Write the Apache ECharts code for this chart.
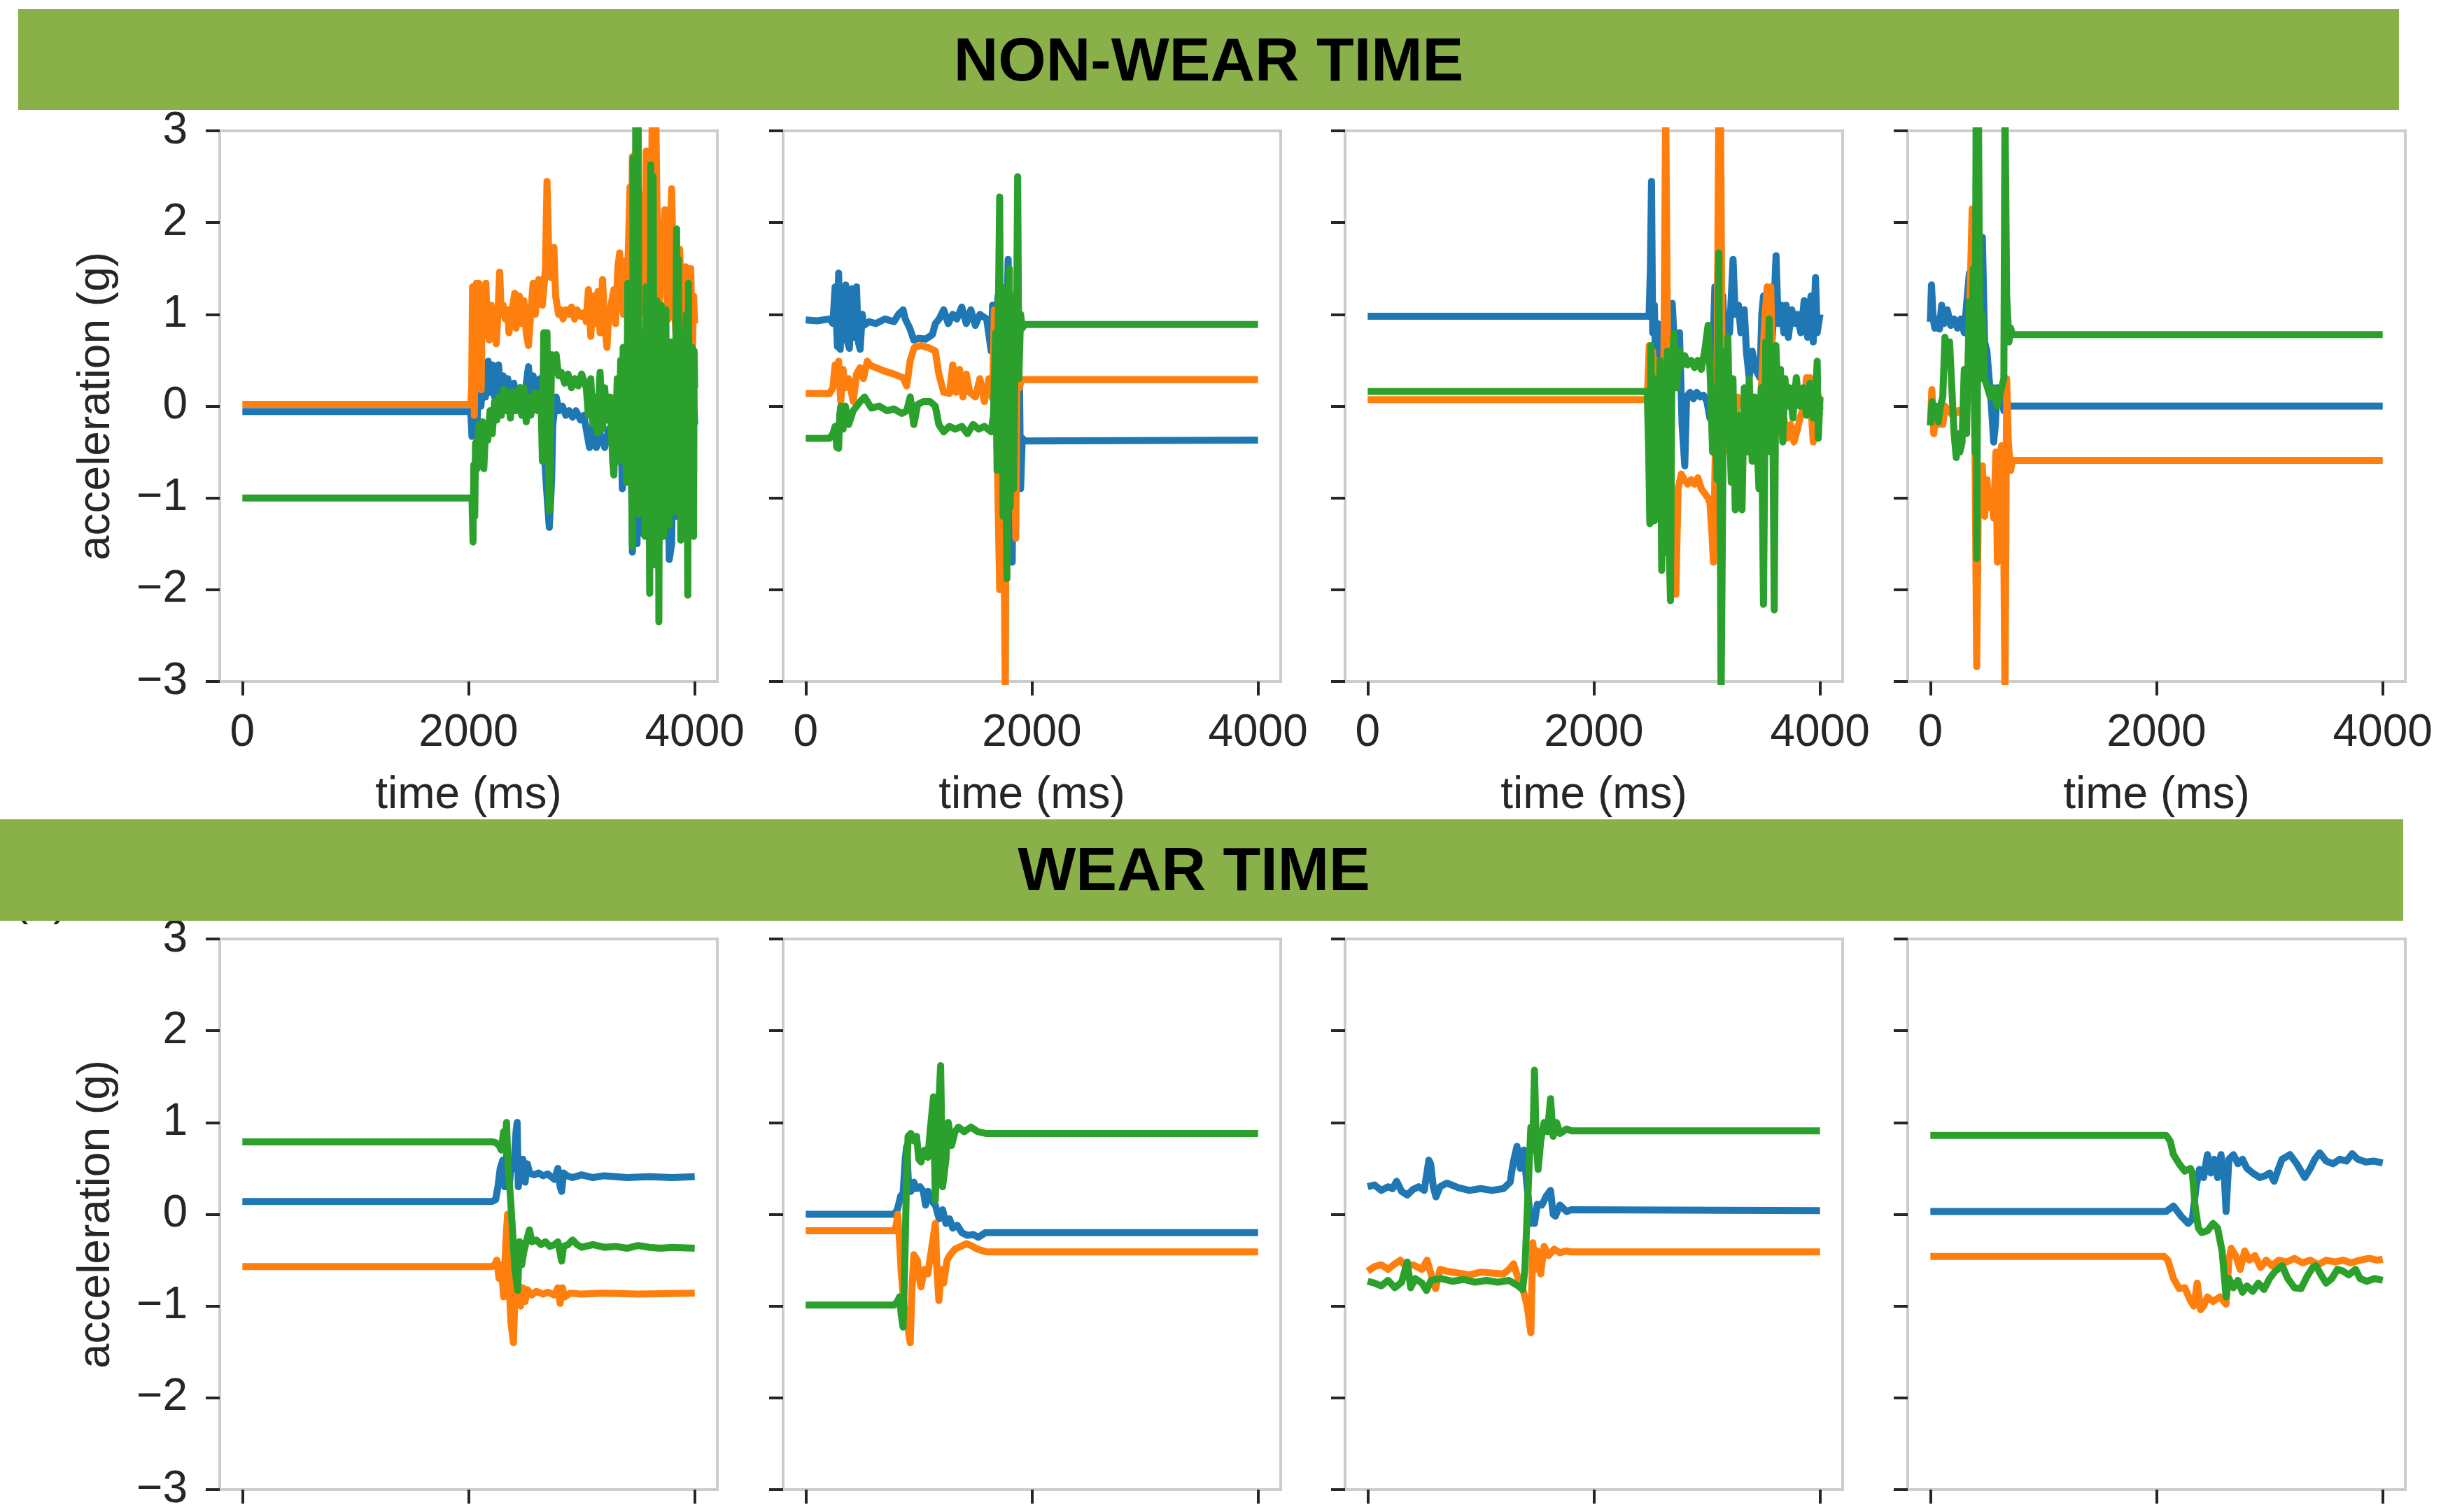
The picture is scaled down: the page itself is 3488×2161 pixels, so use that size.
<!DOCTYPE html>
<html>
<head>
<meta charset="utf-8">
<title>Non-wear / wear time acceleration</title>
<script src="https://cdn.jsdelivr.net/npm/echarts@6.0.0/dist/echarts.min.js"></script>
<style>
  html, body { margin: 0; padding: 0; background: #fff; }
  #chart { width: 3488px; height: 2161px; }
</style>
</head>
<body>
<div id="chart"></div>
<script>
// [time (ms), acceleration (g)] pairs
var timeTicks = [0, 2000, 4000];
var rowTitles = ['NON-WEAR TIME', 'WEAR TIME'];
var xName = 'time (ms)';
var yName = 'acceleration (g)';

// ---- non-wear time ----
var nonWear1X = [[0,-0.06],[2020,-0.06],[2030,-0.33],[2045,-0.1],[2060,0.2],[2075,-0.2],[2090,0.3],[2110,0.0],[2130,0.35],[2150,0.1],[2173,0.49],[2190,0.15],[2210,0.45],[2230,0.1],[2265,0.45],[2285,0.15],[2306,0.33],[2330,0.05],[2347,0.3],[2370,0.1],[2400,0.25],[2430,0.0],[2460,0.2],[2490,0.05],[2530,0.43],[2550,0.1],[2571,0.33],[2600,0.1],[2632,0.3],[2660,-0.3],[2690,-0.9],[2714,-1.32],[2735,-0.8],[2745,-0.2],[2775,0.1],[2800,-0.05],[2830,0.0],[2860,-0.1],[2890,-0.05],[2920,-0.12],[2950,-0.05],[2990,-0.15],[3020,-0.1],[3041,-0.25],[3070,-0.45],[3100,-0.2],[3130,-0.45],[3163,-0.3],[3204,-0.45],[3240,-0.25],[3270,-0.3],[3300,0.1],[3320,-0.6],[3340,0.3],[3360,-0.9],[3380,0.2],[3400,-0.5],[3430,0.4],[3449,-1.59],[3470,0.2],[3490,-1.5],[3510,0.5],[3530,-0.6],[3551,-1.4],[3571,0.6],[3590,-0.3],[3612,0.7],[3640,-1.0],[3660,0.5],[3683,-1.5],[3704,0.3],[3724,-1.2],[3750,0.6],[3775,-1.67],[3796,-1.5],[3815,0.4],[3837,-1.2],[3860,0.5],[3880,-0.8],[3900,0.6],[3920,-0.6],[3940,0.4],[3960,-1.0],[3980,0.5],[4000,-0.2]];
var nonWear1Y = [[0,0.02],[2020,0.02],[2028,0.2],[2035,1.3],[2045,0.4],[2051,-0.1],[2060,1.0],[2070,1.34],[2080,0.6],[2091,1.34],[2100,0.4],[2112,0.18],[2122,1.2],[2135,0.8],[2153,1.34],[2165,0.9],[2183,0.72],[2200,1.1],[2215,0.8],[2230,0.9],[2245,0.68],[2260,1.0],[2275,1.46],[2290,1.0],[2306,1.1],[2325,0.95],[2347,1.05],[2357,0.8],[2380,1.0],[2408,1.23],[2420,0.85],[2449,1.2],[2465,0.9],[2489,1.15],[2510,0.8],[2530,0.66],[2550,1.0],[2571,1.34],[2590,1.0],[2620,1.38],[2653,1.1],[2680,1.5],[2694,2.45],[2710,1.6],[2730,1.4],[2755,1.73],[2770,1.2],[2796,1.0],[2815,1.05],[2836,0.95],[2860,1.05],[2890,1.0],[2910,1.08],[2938,0.95],[2960,1.05],[2990,0.98],[3020,1.02],[3041,0.92],[3060,1.27],[3081,0.76],[3100,1.2],[3122,0.9],[3145,1.25],[3163,0.8],[3185,1.38],[3204,0.9],[3224,0.64],[3240,1.0],[3260,1.1],[3285,1.27],[3300,0.9],[3320,1.5],[3336,1.67],[3355,1.2],[3370,1.0],[3387,1.58],[3400,1.1],[3415,1.8],[3428,2.39],[3440,1.5],[3449,2.72],[3460,1.2],[3475,0.8],[3490,1.6],[3510,1.0],[3530,1.5],[3551,2.31],[3560,1.3],[3571,2.78],[3585,1.6],[3600,1.0],[3612,1.46],[3625,3.3],[3640,2.0],[3655,3.3],[3670,1.8],[3688,1.15],[3704,1.6],[3720,1.8],[3735,2.14],[3750,1.3],[3765,0.95],[3780,1.7],[3796,2.37],[3815,1.2],[3837,0.72],[3850,1.3],[3867,1.71],[3885,1.0],[3898,0.41],[3910,1.2],[3919,1.52],[3935,1.0],[3950,1.45],[3965,1.5],[3980,0.6],[3990,1.2],[4000,0.9]];
var nonWear1Z = [[0,-1.0],[2030,-1.0],[2040,-1.48],[2047,-0.64],[2055,-1.2],[2062,-0.4],[2075,-0.68],[2090,-0.2],[2105,-0.6],[2122,-0.17],[2135,-0.68],[2153,-0.2],[2170,-0.37],[2190,-0.05],[2210,-0.3],[2230,0.05],[2250,-0.15],[2270,0.1],[2290,-0.1],[2310,0.18],[2330,-0.05],[2350,0.15],[2370,-0.13],[2390,0.15],[2420,-0.05],[2450,0.2],[2470,-0.1],[2490,0.2],[2510,-0.17],[2530,0.1],[2550,-0.1],[2580,0.15],[2610,-0.05],[2640,0.15],[2653,-0.6],[2665,0.8],[2680,0.5],[2694,0.8],[2705,-0.5],[2715,-1.14],[2725,-0.2],[2735,0.56],[2755,0.4],[2775,0.56],[2796,0.33],[2820,0.37],[2850,0.25],[2880,0.35],[2910,0.2],[2940,0.3],[2970,0.22],[3000,0.35],[3041,0.2],[3060,-0.1],[3081,0.3],[3100,-0.2],[3122,0.1],[3140,-0.29],[3163,0.37],[3185,-0.25],[3204,0.2],[3224,-0.15],[3250,0.1],[3275,-0.6],[3285,-0.75],[3300,-0.3],[3315,0.3],[3330,-0.6],[3345,0.5],[3360,-0.4],[3367,0.64],[3373,-0.2],[3380,-0.5],[3386,0.4],[3392,-0.6],[3398,-0.83],[3408,1.34],[3414,-0.5],[3420,-0.3],[3428,0.7],[3435,0.6],[3442,-0.7],[3449,-1.53],[3455,2.7],[3460,0.3],[3465,-0.4],[3472,0.6],[3479,3.3],[3484,-0.5],[3490,0.2],[3500,3.3],[3505,0.4],[3510,-1.18],[3515,0.6],[3520,0.3],[3525,-0.7],[3530,-0.6],[3536,0.7],[3541,0.8],[3546,-0.5],[3550,-0.8],[3556,0.5],[3561,-1.42],[3566,0.6],[3571,1.3],[3578,-0.7],[3585,-0.6],[3592,0.6],[3602,-2.04],[3607,0.5],[3612,2.63],[3618,-0.7],[3625,-0.4],[3632,2.5],[3638,0.3],[3645,-0.9],[3649,0.6],[3653,-1.73],[3658,0.4],[3663,1.15],[3669,-0.5],[3675,-0.7],[3679,0.6],[3683,-2.35],[3689,0.2],[3695,0.6],[3700,-0.7],[3704,1.1],[3709,0.3],[3714,-0.9],[3719,0.5],[3724,-1.42],[3730,0.4],[3735,0.9],[3740,-0.7],[3745,1.05],[3750,-0.3],[3755,-0.6],[3762,0.5],[3768,-0.8],[3775,-1.3],[3780,0.4],[3785,-0.5],[3790,0.7],[3795,-0.7],[3800,-0.4],[3808,0.5],[3815,0.6],[3820,-0.7],[3826,-1.15],[3833,0.5],[3840,1.93],[3846,-0.5],[3851,0.4],[3857,1.6],[3862,-0.3],[3867,-0.6],[3872,0.5],[3877,-1.46],[3882,0.3],[3888,0.5],[3893,-0.6],[3898,0.64],[3904,-0.4],[3910,-0.5],[3918,0.6],[3925,1.0],[3932,-0.5],[3939,-2.06],[3945,1.34],[3950,-0.4],[3955,-0.6],[3960,0.5],[3965,0.4],[3972,-0.6],[3979,0.64],[3985,-0.3],[3990,-1.42],[3995,0.6],[4000,0.2]];

var nonWear2X = [[0,0.94],[100,0.93],[212,0.95],[240,0.9],[260,1.3],[280,0.65],[291,1.45],[305,0.62],[330,1.2],[354,1.32],[370,0.7],[386,0.63],[410,1.28],[430,0.75],[449,1.3],[465,0.7],[481,0.62],[500,1.0],[513,0.88],[560,0.92],[620,0.9],[700,0.95],[780,0.92],[820,1.0],[861,1.05],[880,0.95],[920,0.85],[956,0.72],[1000,0.74],[1060,0.73],[1120,0.78],[1146,0.9],[1180,0.95],[1220,1.05],[1260,0.9],[1300,1.0],[1336,0.95],[1380,1.08],[1420,0.9],[1460,1.05],[1500,0.88],[1540,1.0],[1600,0.95],[1640,0.6],[1652,1.1],[1680,0.4],[1700,1.2],[1720,0.2],[1740,0.8],[1760,-0.3],[1790,1.6],[1800,0.2],[1826,-1.7],[1840,0.7],[1850,-0.1],[1862,1.1],[1875,-0.4],[1890,0.3],[1900,-0.9],[1915,-0.35],[1937,-0.38],[4000,-0.37]];
var nonWear2Y = [[0,0.14],[212,0.14],[240,0.2],[260,0.45],[280,0.3],[291,0.49],[310,0.05],[330,0.4],[350,0.2],[380,0.3],[420,0.05],[450,0.35],[481,0.42],[510,0.3],[544,0.49],[576,0.44],[620,0.42],[700,0.38],[780,0.35],[861,0.31],[893,0.22],[924,0.5],[960,0.64],[1019,0.66],[1080,0.64],[1146,0.6],[1177,0.35],[1220,0.15],[1272,0.14],[1300,0.45],[1330,0.15],[1360,0.4],[1390,0.1],[1420,0.35],[1450,0.15],[1500,0.1],[1540,0.3],[1580,0.05],[1620,0.3],[1652,0.08],[1668,1.05],[1690,-0.3],[1715,-2.0],[1730,0.2],[1750,-1.0],[1765,-3.2],[1775,0.4],[1800,-0.6],[1830,0.6],[1858,-1.44],[1870,0.8],[1890,0.2],[1905,0.29],[4000,0.29]];
var nonWear2Z = [[0,-0.35],[212,-0.35],[240,-0.3],[260,-0.22],[275,-0.45],[291,-0.46],[300,-0.1],[310,0.0],[330,-0.25],[350,0.0],[380,-0.2],[420,-0.05],[481,0.05],[520,0.1],[580,-0.02],[650,0.0],[720,-0.05],[780,-0.03],[850,-0.08],[893,-0.05],[924,0.1],[956,-0.2],[990,0.02],[1040,0.05],[1100,0.05],[1146,0.0],[1177,-0.2],[1220,-0.28],[1270,-0.22],[1320,-0.25],[1380,-0.22],[1430,-0.3],[1480,-0.2],[1530,-0.25],[1580,-0.22],[1640,-0.28],[1660,-0.1],[1680,0.8],[1692,-0.7],[1705,1.2],[1715,2.28],[1725,-0.3],[1735,1.3],[1745,-1.2],[1755,0.9],[1765,0.6],[1772,-1.0],[1779,-1.88],[1790,0.3],[1800,1.5],[1808,-1.1],[1815,-0.5],[1822,1.2],[1830,0.9],[1838,-0.9],[1845,-0.2],[1855,1.0],[1862,0.5],[1874,2.5],[1885,0.3],[1900,1.0],[1915,0.85],[1937,0.89],[4000,0.89]];

var nonWear3X = [[0,0.98],[2488,0.98],[2500,1.5],[2510,2.45],[2520,0.8],[2535,1.1],[2550,0.22],[2565,0.9],[2580,-0.5],[2600,-1.2],[2614,-1.6],[2630,0.2],[2660,0.6],[2693,1.12],[2720,0.5],[2757,0.8],[2780,-0.2],[2804,-0.65],[2820,0.1],[2850,0.15],[2880,0.08],[2910,0.15],[2940,0.1],[2970,0.12],[3000,0.05],[3026,-0.13],[3050,0.5],[3070,1.3],[3090,0.9],[3105,2.1],[3120,0.7],[3140,1.2],[3160,0.5],[3180,1.0],[3200,0.8],[3231,1.6],[3250,1.0],[3279,1.1],[3300,0.8],[3330,1.05],[3350,0.58],[3374,0.31],[3400,0.6],[3430,0.4],[3469,0.31],[3485,1.0],[3500,1.2],[3520,0.7],[3545,0.5],[3564,0.49],[3590,1.0],[3611,1.64],[3630,0.9],[3659,1.1],[3680,0.8],[3700,1.1],[3720,0.75],[3750,1.05],[3780,0.9],[3800,1.0],[3830,0.8],[3860,1.15],[3890,0.75],[3920,1.2],[3940,0.7],[3960,1.4],[3975,0.8],[4000,1.0]];
var nonWear3Y = [[0,0.07],[2472,0.07],[2490,0.66],[2505,-0.2],[2520,0.6],[2535,-0.1],[2550,-0.3],[2575,0.5],[2600,-0.4],[2620,0.6],[2635,3.3],[2646,3.3],[2660,-0.6],[2680,-1.0],[2700,-1.44],[2725,-2.05],[2745,-0.9],[2773,-0.74],[2800,-0.8],[2830,-0.85],[2860,-0.8],[2890,-0.85],[2920,-0.78],[2950,-0.9],[2980,-0.95],[3010,-1.0],[3026,-1.05],[3045,-1.4],[3057,-1.7],[3075,-0.4],[3090,0.5],[3105,3.3],[3120,3.3],[3135,0.2],[3150,-0.5],[3180,-0.2],[3210,0.2],[3240,-0.3],[3270,0.1],[3311,0.05],[3340,-0.1],[3370,-0.17],[3400,0.0],[3430,-0.1],[3469,-0.05],[3490,0.4],[3510,0.9],[3532,1.3],[3550,1.0],[3564,1.3],[3580,0.4],[3600,-0.1],[3620,-0.2],[3650,-0.3],[3680,-0.13],[3710,-0.35],[3740,-0.2],[3770,-0.39],[3800,-0.25],[3830,-0.1],[3860,0.0],[3880,0.31],[3900,0.2],[3912,0.31],[3925,-0.1],[3940,-0.39],[3955,0.0],[3970,-0.2],[3990,0.1],[4000,-0.04]];
var nonWear3Z = [[0,0.16],[2472,0.16],[2485,-0.5],[2495,-1.28],[2505,0.66],[2520,-0.8],[2535,-1.25],[2550,0.3],[2570,-1.0],[2585,0.5],[2600,-1.79],[2615,0.4],[2630,-0.8],[2650,0.6],[2665,-1.5],[2678,-2.12],[2690,0.4],[2709,0.79],[2730,0.2],[2757,0.6],[2780,0.44],[2804,0.55],[2830,0.45],[2860,0.5],[2890,0.42],[2920,0.5],[2950,0.4],[2980,0.6],[3010,0.88],[3030,0.3],[3050,-0.5],[3070,0.2],[3090,-0.8],[3105,1.67],[3115,-0.5],[3125,-3.2],[3136,-1.5],[3150,0.6],[3170,-0.4],[3185,0.75],[3200,-0.2],[3215,-0.83],[3230,0.3],[3250,-1.13],[3270,-0.4],[3290,-0.1],[3310,-1.13],[3330,0.2],[3350,-0.5],[3374,0.3],[3400,-0.6],[3420,0.1],[3440,-0.3],[3460,-0.9],[3480,0.2],[3500,-2.16],[3520,0.7],[3535,0.2],[3550,0.95],[3565,-0.5],[3580,0.3],[3595,-2.22],[3610,0.66],[3630,0.0],[3650,0.4],[3670,-0.39],[3690,0.3],[3710,0.0],[3730,0.2],[3760,-0.13],[3790,0.31],[3820,0.0],[3850,0.2],[3880,-0.1],[3910,0.25],[3940,-0.13],[3960,0.1],[3975,0.49],[3985,-0.35],[4000,0.1]];

var nonWear4X = [[0,0.92],[10,1.32],[25,0.95],[40,0.85],[60,0.95],[80,0.84],[100,1.1],[120,0.9],[150,1.05],[180,0.88],[210,0.95],[240,0.85],[270,0.95],[300,0.8],[320,1.1],[345,1.45],[360,0.7],[380,1.3],[400,0.9],[420,1.4],[440,0.8],[460,1.84],[480,0.7],[500,0.6],[520,0.3],[540,0.0],[560,-0.39],[575,-0.2],[590,0.2],[610,0.05],[630,0.14],[650,-0.05],[670,0.05],[700,0.0],[4000,0.0]];
var nonWear4Y = [[0,-0.21],[13,0.18],[30,-0.3],[50,-0.05],[70,-0.2],[90,-0.1],[110,-0.2],[130,0.0],[160,-0.05],[200,-0.1],[250,-0.05],[290,-0.1],[330,0.2],[370,2.15],[395,-0.5],[410,-2.84],[425,-0.9],[440,-1.0],[460,-0.65],[480,-1.2],[500,-0.8],[520,-1.1],[540,-1.0],[560,-1.22],[580,-0.5],[593,-1.7],[610,-0.6],[630,-0.43],[645,-0.8],[660,-3.2],[675,0.3],[690,-0.4],[710,-0.7],[726,-0.59],[4000,-0.59]];
var nonWear4Z = [[0,-0.21],[15,0.05],[30,-0.1],[50,0.0],[70,-0.17],[90,0.0],[110,0.1],[129,0.75],[150,0.6],[170,0.7],[190,0.2],[210,-0.3],[229,-0.56],[245,-0.3],[260,-0.5],[280,-0.4],[300,0.4],[320,-0.3],[345,1.14],[360,0.2],[380,1.5],[395,-0.5],[405,3.3],[411,-1.66],[425,3.3],[440,0.3],[460,1.0],[480,0.3],[500,0.22],[530,0.1],[560,0.2],[590,0.0],[620,0.15],[650,0.3],[660,3.3],[675,1.2],[695,0.7],[710,0.85],[726,0.78],[4000,0.78]];

// ---- wear time ----
var wear1X = [[0,0.14],[2208,0.14],[2240,0.16],[2260,0.3],[2280,0.5],[2303,0.59],[2320,0.3],[2340,0.7],[2360,0.3],[2380,0.6],[2400,0.5],[2420,0.9],[2430,1.0],[2440,0.3],[2460,0.5],[2480,0.6],[2500,0.35],[2520,0.55],[2540,0.45],[2580,0.43],[2620,0.45],[2660,0.42],[2700,0.44],[2760,0.38],[2790,0.5],[2810,0.3],[2823,0.25],[2840,0.45],[2870,0.42],[2920,0.4],[3000,0.43],[3100,0.4],[3200,0.42],[3400,0.4],[3600,0.41],[3800,0.4],[4000,0.41]];
var wear1Y = [[0,-0.57],[2208,-0.57],[2230,-0.55],[2250,-0.5],[2270,-0.7],[2290,-0.55],[2310,-0.9],[2330,-0.3],[2345,0.0],[2360,-0.8],[2375,-1.18],[2397,-1.4],[2410,-0.9],[2425,-0.5],[2440,-0.8],[2460,-1.0],[2480,-0.8],[2500,-0.95],[2520,-0.82],[2560,-0.88],[2600,-0.84],[2660,-0.87],[2700,-0.85],[2760,-0.88],[2790,-0.8],[2810,-0.97],[2830,-0.8],[2850,-0.9],[2900,-0.86],[3000,-0.87],[3200,-0.86],[3500,-0.87],[4000,-0.86]];
var wear1Z = [[0,0.79],[2208,0.79],[2240,0.78],[2270,0.75],[2290,0.7],[2310,0.9],[2320,0.75],[2336,1.0],[2350,0.5],[2370,0.2],[2390,-0.2],[2410,-0.6],[2435,-0.83],[2450,-0.3],[2470,-0.55],[2490,-0.4],[2510,-0.3],[2539,-0.17],[2560,-0.3],[2600,-0.28],[2640,-0.33],[2680,-0.3],[2720,-0.35],[2760,-0.33],[2790,-0.3],[2810,-0.42],[2823,-0.51],[2840,-0.35],[2880,-0.33],[2920,-0.28],[2960,-0.33],[3000,-0.36],[3100,-0.33],[3200,-0.36],[3300,-0.35],[3400,-0.37],[3500,-0.34],[3600,-0.36],[3700,-0.37],[3800,-0.36],[4000,-0.37]];

var wear2X = [[0,0.0],[782,0.0],[810,0.05],[840,0.2],[861,0.23],[880,0.6],[893,0.74],[910,0.3],[930,0.25],[956,0.35],[980,0.28],[1010,0.3],[1040,0.25],[1060,0.1],[1082,0.25],[1110,0.15],[1146,0.1],[1180,-0.05],[1210,0.05],[1240,-0.1],[1272,-0.05],[1300,-0.15],[1340,-0.12],[1380,-0.2],[1431,-0.23],[1480,-0.22],[1526,-0.25],[1589,-0.2],[4000,-0.2]];
var wear2Y = [[0,-0.18],[782,-0.18],[800,-0.12],[813,0.0],[830,-0.3],[845,-0.64],[870,-1.0],[900,-1.2],[924,-1.4],[940,-0.8],[956,-0.44],[987,-0.5],[1005,-0.7],[1019,-0.79],[1050,-0.6],[1080,-0.65],[1110,-0.4],[1146,-0.1],[1160,-0.6],[1177,-0.94],[1200,-0.6],[1220,-0.75],[1250,-0.5],[1272,-0.45],[1320,-0.38],[1370,-0.35],[1420,-0.32],[1462,-0.34],[1520,-0.38],[1600,-0.41],[4000,-0.41]];
var wear2Z = [[0,-0.99],[782,-0.99],[810,-0.95],[830,-0.9],[845,-1.1],[861,-1.23],[875,-0.6],[890,0.3],[905,0.85],[930,0.88],[956,0.8],[980,0.85],[1000,0.6],[1019,0.57],[1050,0.7],[1080,0.62],[1100,0.9],[1130,1.28],[1146,0.15],[1165,0.9],[1193,1.62],[1210,0.3],[1240,0.6],[1260,1.0],[1290,0.75],[1320,0.9],[1350,0.95],[1400,0.9],[1462,0.95],[1520,0.9],[1600,0.88],[4000,0.88]];

var wear3X = [[0,0.3],[60,0.32],[120,0.26],[180,0.3],[220,0.28],[256,0.36],[300,0.25],[350,0.21],[400,0.27],[450,0.3],[500,0.26],[541,0.59],[557,0.55],[580,0.3],[604,0.19],[640,0.3],[700,0.34],[800,0.29],[900,0.26],[1000,0.28],[1100,0.26],[1200,0.28],[1260,0.35],[1285,0.55],[1320,0.74],[1350,0.5],[1380,0.7],[1410,0.3],[1443,-0.1],[1460,0.0],[1475,-0.1],[1500,0.11],[1540,0.1],[1580,0.2],[1617,0.26],[1640,0.0],[1660,-0.02],[1700,0.1],[1760,0.03],[1800,0.05],[4000,0.04]];
var wear3Y = [[0,-0.62],[60,-0.57],[120,-0.55],[180,-0.6],[230,-0.55],[288,-0.5],[330,-0.56],[400,-0.55],[480,-0.6],[525,-0.5],[560,-0.65],[600,-0.81],[640,-0.6],[700,-0.62],[800,-0.64],[900,-0.66],[1000,-0.63],[1100,-0.64],[1200,-0.65],[1250,-0.6],[1290,-0.54],[1330,-0.7],[1380,-0.85],[1410,-1.0],[1443,-1.29],[1460,-0.31],[1480,-0.6],[1500,-0.4],[1530,-0.65],[1560,-0.35],[1600,-0.45],[1650,-0.38],[1700,-0.42],[1750,-0.4],[1800,-0.41],[4000,-0.41]];
var wear3Z = [[0,-0.73],[60,-0.75],[120,-0.78],[180,-0.72],[240,-0.8],[300,-0.74],[350,-0.52],[380,-0.8],[420,-0.7],[480,-0.75],[520,-0.83],[560,-0.72],[650,-0.7],[750,-0.73],[850,-0.71],[950,-0.74],[1050,-0.72],[1150,-0.74],[1250,-0.72],[1330,-0.78],[1370,-0.82],[1390,-0.6],[1410,0.0],[1430,0.6],[1443,0.95],[1460,0.7],[1475,1.57],[1490,0.8],[1507,0.49],[1530,0.8],[1560,1.0],[1590,0.9],[1617,1.26],[1640,0.85],[1670,1.0],[1700,0.88],[1760,0.93],[1800,0.91],[4000,0.91]];

var wear4X = [[0,0.03],[2085,0.03],[2150,0.09],[2217,-0.02],[2280,-0.1],[2317,-0.05],[2350,0.3],[2380,0.49],[2416,0.4],[2450,0.65],[2480,0.45],[2510,0.6],[2540,0.4],[2570,0.65],[2600,0.4],[2615,0.03],[2640,0.6],[2680,0.65],[2720,0.55],[2760,0.6],[2800,0.5],[2850,0.45],[2913,0.4],[2960,0.42],[3000,0.45],[3040,0.36],[3079,0.5],[3110,0.6],[3180,0.65],[3240,0.55],[3311,0.4],[3360,0.5],[3400,0.6],[3443,0.67],[3500,0.58],[3560,0.55],[3620,0.6],[3680,0.58],[3730,0.66],[3780,0.6],[3850,0.57],[3920,0.58],[4000,0.56]];
var wear4Y = [[0,-0.46],[2068,-0.46],[2100,-0.5],[2150,-0.7],[2200,-0.81],[2250,-0.8],[2300,-0.94],[2330,-1.0],[2360,-0.75],[2390,-1.04],[2416,-1.0],[2450,-0.9],[2500,-0.95],[2560,-0.9],[2615,-0.98],[2640,-0.5],[2660,-0.37],[2700,-0.45],[2740,-0.6],[2780,-0.4],[2820,-0.5],[2870,-0.45],[2920,-0.58],[2970,-0.5],[3020,-0.56],[3080,-0.5],[3150,-0.52],[3220,-0.48],[3290,-0.53],[3360,-0.5],[3430,-0.55],[3500,-0.5],[3580,-0.52],[3650,-0.5],[3720,-0.53],[3800,-0.5],[3880,-0.48],[3950,-0.5],[4000,-0.49]];
var wear4Z = [[0,0.86],[2085,0.86],[2120,0.8],[2150,0.65],[2200,0.55],[2250,0.47],[2300,0.5],[2317,0.45],[2340,0.1],[2370,-0.15],[2400,-0.2],[2450,-0.18],[2500,-0.1],[2540,-0.15],[2580,-0.4],[2615,-0.9],[2640,-0.7],[2680,-0.8],[2720,-0.72],[2760,-0.85],[2800,-0.78],[2850,-0.84],[2900,-0.75],[2950,-0.82],[3000,-0.7],[3050,-0.62],[3112,-0.56],[3160,-0.7],[3220,-0.8],[3278,-0.81],[3330,-0.68],[3380,-0.58],[3410,-0.56],[3450,-0.65],[3500,-0.75],[3550,-0.7],[3600,-0.6],[3650,-0.62],[3700,-0.66],[3760,-0.6],[3800,-0.7],[3860,-0.73],[3930,-0.7],[4000,-0.72]];

var panels = [
  [nonWear1X, nonWear1Y, nonWear1Z], [nonWear2X, nonWear2Y, nonWear2Z],
  [nonWear3X, nonWear3Y, nonWear3Z], [nonWear4X, nonWear4Y, nonWear4Z],
  [wear1X, wear1Y, wear1Z], [wear2X, wear2Y, wear2Z],
  [wear3X, wear3Y, wear3Z], [wear4X, wear4Y, wear4Z]
];

var colors = ['#1f77b4', '#ff7f0e', '#2ca02c'];
var ink = '#262626';
var font = 'Liberation Sans';
var banner = '#8AB04A';
var lefts = [314, 1119, 1922, 2726];
var tops = [187, 1342];

var grid = [], xAxis = [], yAxis = [], series = [];
panels.forEach(function (p, i) {
  var row = Math.floor(i / 4), col = i % 4;
  grid.push({
    left: lefts[col], top: tops[row], width: 711, height: 787,
    show: true, borderColor: '#cccccc', borderWidth: 4, backgroundColor: '#fff'
  });
  xAxis.push({
    type: 'value', gridIndex: i, min: -200, max: 4200,
    name: row === 0 ? xName : '', nameLocation: 'middle', nameGap: 131,
    nameTextStyle: { fontSize: 64, color: ink, fontFamily: font },
    axisLine: { show: false, onZero: false },
    splitLine: { show: false },
    axisTick: { customValues: timeTicks, length: 20, lineStyle: { color: ink, width: 4 } },
    axisLabel: {
      show: row === 0, customValues: timeTicks, margin: 42, fontSize: 64, color: ink, fontFamily: font,
      formatter: function (v) { return String(v); }
    }
  });
  yAxis.push({
    type: 'value', gridIndex: i, min: -3, max: 3, interval: 1,
    name: col === 0 ? yName : '', nameLocation: 'middle', nameGap: 144,
    nameTextStyle: { fontSize: 64, color: ink, fontFamily: font },
    axisLine: { show: false, onZero: false },
    splitLine: { show: false },
    axisTick: { length: 20, lineStyle: { color: ink, width: 4 } },
    axisLabel: {
      show: col === 0, margin: 46, fontSize: 64, color: ink, fontFamily: font,
      formatter: function (v) { return v < 0 ? '\u2212' + Math.abs(v) : String(v); }
    }
  });
  p.forEach(function (d, k) {
    series.push({
      type: 'line', xAxisIndex: i, yAxisIndex: i, data: d,
      showSymbol: false, symbol: 'none', clip: true, z: 2 + k,
      lineStyle: { color: colors[k], width: 10, join: 'round' },
      emphasis: { disabled: true }
    });
  });
});

var chart = echarts.init(document.getElementById('chart'), null, { renderer: 'canvas' });
chart.setOption({
  animation: false,
  backgroundColor: '#fff',
  grid: grid, xAxis: xAxis, yAxis: yAxis, series: series,
  graphic: [
    // panel letter, mostly hidden behind the second banner
    { type: 'text', x: 19, y: 1290, z: 1,
      style: { text: '(b)', font: '64px "Liberation Sans"', fill: ink, align: 'left', verticalAlign: 'middle' } },
    { type: 'rect', z: 10, shape: { x: 26, y: 13, width: 3402, height: 144 }, style: { fill: banner } },
    { type: 'rect', z: 10, shape: { x: 0, y: 1171, width: 3434, height: 145 }, style: { fill: banner } },
    { type: 'text', x: 1727, y: 91, z: 11,
      style: { text: rowTitles[0], font: 'bold 88px "Liberation Sans"', fill: '#000', align: 'center', verticalAlign: 'middle' } },
    { type: 'text', x: 1706, y: 1248, z: 11,
      style: { text: rowTitles[1], font: 'bold 88px "Liberation Sans"', fill: '#000', align: 'center', verticalAlign: 'middle' } }
  ]
});
</script>
</body>
</html>
